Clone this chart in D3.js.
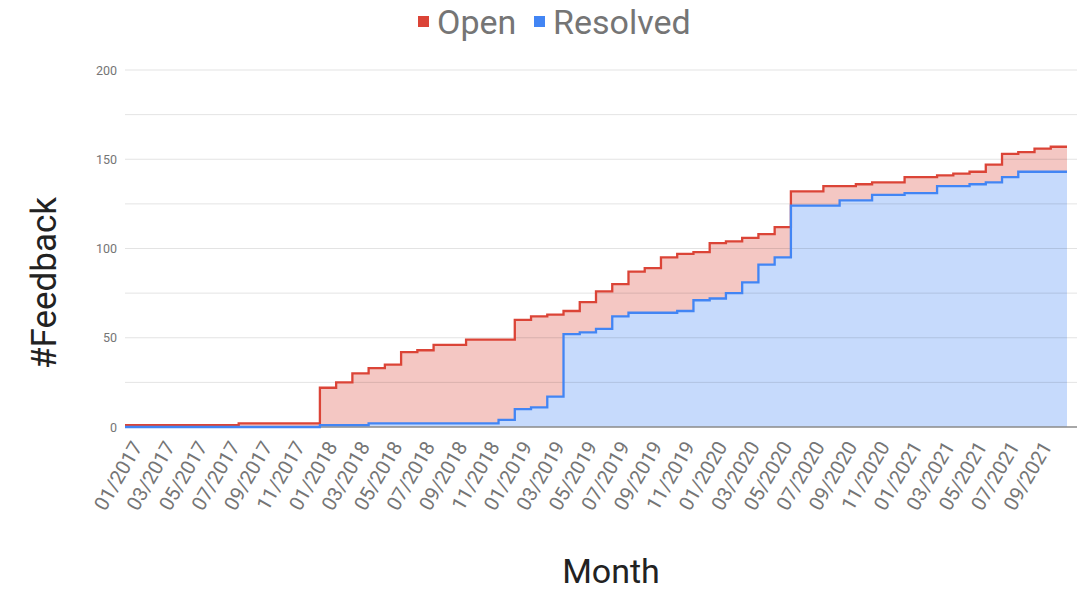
<!DOCTYPE html>
<html>
<head>
<meta charset="utf-8">
<script src="https://cdn.jsdelivr.net/npm/d3@7"></script>
<style>
    body { margin: 0; background: #fff; }
    svg { font-family: Roboto, "Noto Sans", sans-serif; }
    .tick text { fill: #757575; }
</style>
</head>
<body>
<svg id="chart" width="1089" height="590"></svg>
<script>
// data
var months = [
    "01/2017", "02/2017", "03/2017", "04/2017", "05/2017", "06/2017", "07/2017", "08/2017", "09/2017", "10/2017", "11/2017", "12/2017",
    "01/2018", "02/2018", "03/2018", "04/2018", "05/2018", "06/2018", "07/2018", "08/2018", "09/2018", "10/2018", "11/2018", "12/2018",
    "01/2019", "02/2019", "03/2019", "04/2019", "05/2019", "06/2019", "07/2019", "08/2019", "09/2019", "10/2019", "11/2019", "12/2019",
    "01/2020", "02/2020", "03/2020", "04/2020", "05/2020", "06/2020", "07/2020", "08/2020", "09/2020", "10/2020", "11/2020", "12/2020",
    "01/2021", "02/2021", "03/2021", "04/2021", "05/2021", "06/2021", "07/2021", "08/2021", "09/2021", "10/2021"
];
var openCounts = [
    1, 1, 1, 1, 1, 1, 1, 2, 2, 2, 2, 2,
    22, 25, 30, 33, 35, 42, 43, 46, 46, 49, 49, 49,
    60, 62, 63, 65, 70, 76, 80, 87, 89, 95, 97, 98,
    103, 104, 106, 108, 112, 132, 132, 135, 135, 136, 137, 137,
    140, 140, 141, 142, 143, 147, 153, 154, 156, 157
];
var resolvedCounts = [
    0, 0, 0, 0, 0, 0, 0, 0, 0, 0, 0, 0,
    1, 1, 1, 2, 2, 2, 2, 2, 2, 2, 2, 4,
    10, 11, 17, 52, 53, 55, 62, 64, 64, 64, 65, 71,
    72, 75, 81, 91, 95, 124, 124, 124, 127, 127, 130, 130,
    131, 131, 135, 135, 136, 137, 140, 143, 143, 143
];
var seriesNames = ["Open", "Resolved"];
var seriesColors = ["#db4437", "#4285f4"];
var areaColors = ["#f4c7c3", "#c6dafc"];
var yTicks = [0, 50, 100, 150, 200];
var gridValues = [25, 50, 75, 100, 125, 150, 175, 200];

var svg = d3.select("#chart");

// scales
var x = d3.scaleBand().domain(months).range([125, 1067]).padding(0);
var y = d3.scaleLinear().domain([0, 200]).range([427, 70]);

function stepPoints(values) {
    var pts = months.map(function(m, i) { return { x: x(m), v: values[i] }; });
    var last = months[months.length - 1];
    pts.push({ x: x(last) + x.bandwidth(), v: values[values.length - 1] });
    return pts;
}

var area = d3.area()
    .curve(d3.curveStepAfter)
    .x(function(d) { return d.x; })
    .y0(y(0))
    .y1(function(d) { return y(d.v); });

var line = d3.line()
    .curve(d3.curveStepAfter)
    .x(function(d) { return d.x; })
    .y(function(d) { return y(d.v); });

var allSeries = [openCounts, resolvedCounts];

// areas
allSeries.forEach(function(values, i) {
    svg.append("path")
        .attr("d", area(stepPoints(values)))
        .attr("fill", areaColors[i]);
});

// gridlines
svg.append("g").selectAll("line")
    .data(gridValues)
    .enter()
    .append("line")
    .attr("x1", 125)
    .attr("x2", 1077)
    .attr("y1", function(d) { return y(d); })
    .attr("y2", function(d) { return y(d); })
    .attr("stroke", "rgba(0,0,0,0.11)")
    .attr("stroke-width", 1);

// baseline
svg.append("line")
    .attr("x1", 125).attr("x2", 1077)
    .attr("y1", y(0)).attr("y2", y(0))
    .attr("stroke", "#8a8a8a")
    .attr("stroke-width", 1.5);

// lines
allSeries.forEach(function(values, i) {
    svg.append("path")
        .attr("d", line(stepPoints(values)))
        .attr("fill", "none")
        .attr("stroke", seriesColors[i])
        .attr("stroke-width", 2.3);
});

// y-axis
var yAxis = svg.append("g")
    .attr("transform", "translate(125,0)")
    .call(d3.axisLeft(y).tickValues(yTicks).tickSize(0).tickPadding(8));
yAxis.select(".domain").remove();
yAxis.selectAll("text")
    .style("font-size", "12.5px")
    .style("font-family", "Roboto");

// x-axis
var xAxis = svg.append("g")
    .attr("transform", "translate(0," + y(0) + ")")
    .call(d3.axisBottom(x).tickValues(months.filter(function(m, i) { return i % 2 == 0; })).tickSize(0));
xAxis.select(".domain").remove();
xAxis.selectAll("text")
    .attr("x", 0)
    .attr("y", 0)
    .attr("dy", "0.35em")
    .attr("transform", "translate(4,16) rotate(-60)")
    .style("text-anchor", "end")
    .style("font-size", "20px")
    .style("font-family", "Roboto");

// axis titles
svg.append("text")
    .attr("transform", "translate(44, 283) rotate(-90)")
    .attr("text-anchor", "middle")
    .attr("dy", "0.35em")
    .attr("fill", "#222")
    .style("font-size", "35px")
    .text("#Feedback");

svg.append("text")
    .attr("x", 611)
    .attr("y", 583)
    .attr("text-anchor", "middle")
    .attr("fill", "#222")
    .style("font-size", "34px")
    .text("Month");

// legend
var legendX = [418, 534];
var legend = svg.append("g").selectAll("g")
    .data(seriesNames)
    .enter()
    .append("g")
    .attr("transform", function(d, i) { return "translate(" + legendX[i] + ",0)"; });
legend.append("rect")
    .attr("x", 0)
    .attr("y", 16)
    .attr("width", 11)
    .attr("height", 11)
    .attr("fill", function(d, i) { return seriesColors[i]; });
legend.append("text")
    .attr("x", 19)
    .attr("y", 34)
    .attr("fill", "#757575")
    .style("font-size", "34px")
    .text(function(d) { return d; });
</script>
</body>
</html>
